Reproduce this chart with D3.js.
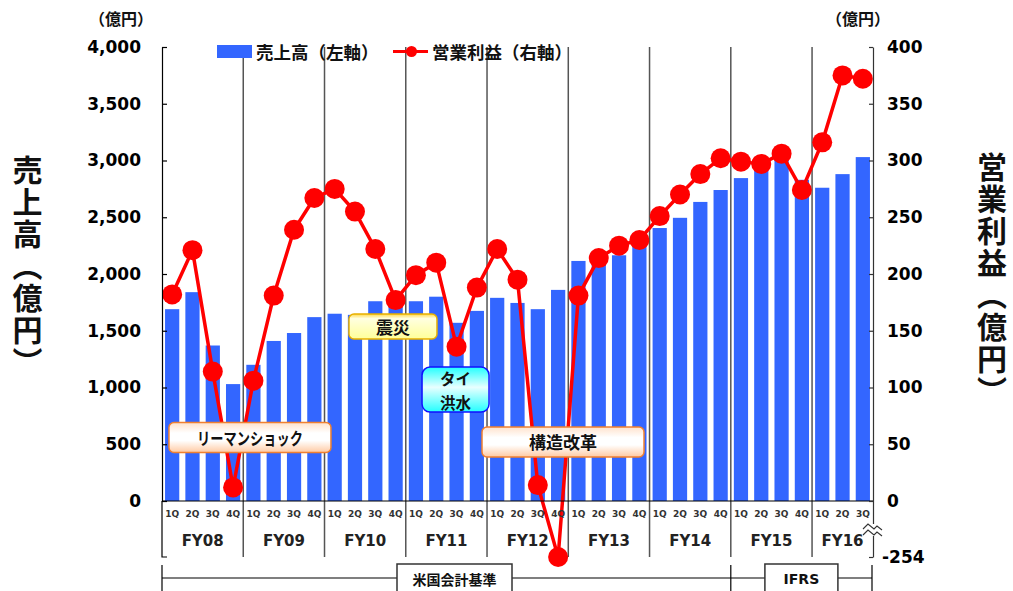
<!DOCTYPE html>
<html><head><meta charset="utf-8">
<script src="https://cdn.jsdelivr.net/npm/d3@7"></script>
<style>
html,body{margin:0;padding:0;background:#fff;}
svg{display:block;}
</style></head>
<body>
<svg id="chart" width="1013" height="591"></svg>
<script>
// ---- data ----
const fyLabels = ["FY08","FY09","FY10","FY11","FY12","FY13","FY14","FY15","FY16"];
const quarterLabels = ["1Q","2Q","3Q","4Q"];
const quartersPerYear = [4,4,4,4,4,4,4,4,3];
const sales = [
  1690,1840,1370,1030,
  1200,1410,1480,1620,
  1650,1640,1760,1770,
  1760,1800,1570,1675,
  1790,1745,1690,1860,
  2115,2140,2165,2260,
  2405,2495,2635,2740,
  2845,2935,3010,2830,
  2760,2880,3030
];
const operatingProfit = [
  182,221,114,12,
  106,181,239,267,
  275,255,222,177,
  199,210,136,188,
  222,195,14,-254,
  181,214,225,230,
  251,270,288,302,
  299,297,306,274,
  316,375,372
];
const salesTicks = [0,500,1000,1500,2000,2500,3000,3500,4000];
const profitTicks = [-254,0,50,100,150,200,250,300,350,400];
const legendLabels = ["売上高（左軸）","営業利益（右軸）"];
const unitLabel = "（億円）";
const leftTitle = "売上高（億円）";
const rightTitle = "営業利益（億円）";
const accountingBands = ["米国会計基準","IFRS"];
const annotationTexts = [["リーマンショック"],["震災"],["タイ","洪水"],["構造改革"]];
const annotationCat = [4.33, 11.37, 14.45, 19.74];   // position along category axis
const annotationVal = [559, 1537, 982, 520];          // position on sales axis
const annotationStyle = ["orange","yellow","cyan","orange"];

// ---- build categories ----
const categories = [];
const yearStart = [];
fyLabels.forEach((fy,i)=>{
  yearStart.push(categories.length);
  for(let q=0;q<quartersPerYear[i];q++) categories.push({fy, q:quarterLabels[q], idx:categories.length});
});
yearStart.push(categories.length);

const svg = d3.select("#chart");
const L = 162, R = 873, T = 47, Z = 501, B = 557;
const CJK = "'Noto Sans CJK JP','Noto Sans CJK SC',sans-serif";
const LAT = "'DejaVu Sans',Verdana,sans-serif";

const x = d3.scaleBand().domain(categories.map(d=>d.idx)).range([L,R]).paddingInner(0.3).paddingOuter(0.15);
const step = x.step();
const yL = d3.scaleLinear().domain([0,4000]).range([Z,T]);
const yR = d3.scaleLinear().domain([-254,0,400]).range([B,Z,T]);

// gradients
const defs = svg.append("defs");
function grad(id, stops){
  const g = defs.append("linearGradient").attr("id",id).attr("x1",0).attr("y1",0).attr("x2",0).attr("y2",1);
  stops.forEach(s=>g.append("stop").attr("offset",s[0]).attr("stop-color",s[1]));
}
grad("gOrange",[[0,"#ffe2cc"],[0.35,"#ffffff"],[0.6,"#ffffff"],[1,"#ffc9a2"]]);
grad("gYellow",[[0,"#ffd84a"],[0.18,"#ffffe0"],[1,"#ffff99"]]);
grad("gCyan",[[0,"#22ffff"],[0.45,"#e8ffff"],[1,"#22ffff"]]);
const styles = {
  orange:{fill:"url(#gOrange)",stroke:"#f08030",w:162,h:30,rx:5},
  yellow:{fill:"url(#gYellow)",stroke:"#e8b000",w:88,h:25,rx:5},
  cyan:{fill:"url(#gCyan)",stroke:"#1010ff",w:67,h:45,rx:8}
};

// separators between fiscal years
const sepXs = yearStart.slice(1,-1).map(i=>x(i) - step*0.15);
svg.append("g").selectAll("line").data(sepXs).join("line")
  .attr("x1",d=>d).attr("x2",d=>d).attr("y1",T).attr("y2",B)
  .attr("stroke","#555").attr("stroke-width",1.5);

// bars
svg.append("g").selectAll("rect").data(categories).join("rect")
  .attr("x",d=>x(d.idx)).attr("width",x.bandwidth())
  .attr("y",d=>yL(sales[d.idx])).attr("height",d=>Z-yL(sales[d.idx]))
  .attr("fill","#3366ff");

// line
const line = d3.line().x(d=>x(d.idx)+x.bandwidth()/2).y(d=>yR(operatingProfit[d.idx]));
svg.append("path").datum(categories).attr("d",line)
  .attr("fill","none").attr("stroke","#ff0000").attr("stroke-width",3.5);
svg.append("g").selectAll("circle").data(categories).join("circle")
  .attr("cx",d=>x(d.idx)+x.bandwidth()/2).attr("cy",d=>yR(operatingProfit[d.idx]))
  .attr("r",10).attr("fill","#ff0000");

// annotations
annotationTexts.forEach((lines,k)=>{
  const cx = L + step*annotationCat[k], cy = yL(annotationVal[k]);
  const st = styles[annotationStyle[k]];
  const g = svg.append("g");
  g.append("rect").attr("x",cx-st.w/2).attr("y",cy-st.h/2).attr("width",st.w).attr("height",st.h)
    .attr("rx",st.rx).attr("fill",st.fill).attr("stroke",st.stroke).attr("stroke-width",1.5);
  const n = lines.length;
  const fs = n>1 ? 15.5 : 17;
  lines.forEach((t,i)=>{
    const tx = g.append("text").attr("x",cx).attr("y",cy + (i-(n-1)/2)*24)
      .attr("text-anchor","middle").attr("dominant-baseline","central")
      .attr("font-family",CJK).attr("font-weight","bold").attr("font-size",fs).attr("fill","#111").text(t);
    if(t.length>=8) tx.attr("textLength",106).attr("lengthAdjust","spacingAndGlyphs");
  });
});

// baseline
svg.append("line").attr("x1",L).attr("x2",R).attr("y1",Z).attr("y2",Z).attr("stroke","#000").attr("stroke-width",1.2);

// left axis
const axL = svg.append("g").attr("transform",`translate(${L},0)`)
  .call(d3.axisLeft(yL).tickValues(salesTicks).tickSizeInner(-5).tickSizeOuter(0).tickPadding(21).tickFormat(d3.format(",")));
axL.attr("font-family",LAT).attr("font-size",17).attr("font-weight","bold");
axL.selectAll("text").attr("fill","#000");
axL.selectAll("path,line").attr("stroke","#000").attr("stroke-width",1.2);
svg.append("path").attr("d",`M${L},${Z}V${B}h5`).attr("fill","none").attr("stroke","#000").attr("stroke-width",1.2);

// right axis
const axR = svg.append("g").attr("transform",`translate(${R},0)`)
  .call(d3.axisRight(yR).tickValues(profitTicks).tickSizeInner(-4).tickSizeOuter(0).tickPadding(14)
    .tickFormat(d=>d<0?"-"+Math.abs(d):String(d)));
axR.attr("font-family",LAT).attr("font-size",17).attr("font-weight","bold");
axR.selectAll("text").attr("fill","#000");
axR.selectAll("path,line").attr("stroke","#333").attr("stroke-width",1.2);
axR.selectAll(".tick").filter(d=>d<0).select("text").attr("x",9);
// break mark
const bm = svg.append("g");
bm.append("rect").attr("x",R-6).attr("y",524).attr("width",14).attr("height",12).attr("fill","#fff");
[527,533].forEach(yy=>{
  bm.append("path").attr("d",`M${R-10},${yy+2} L${R-5},${yy-3} L${R+1},${yy+2} L${R+4},${yy-1} L${R+9},${yy+3}`)
    .attr("fill","none").attr("stroke","#333").attr("stroke-width",1.1);
});

// category labels
svg.append("g").selectAll("text").data(categories).join("text")
  .attr("x",d=>x(d.idx)+x.bandwidth()/2).attr("y",517)
  .attr("text-anchor","middle").attr("font-family",LAT).attr("font-weight","bold")
  .attr("font-size",9).attr("fill","#333").text(d=>d.q);
svg.append("g").selectAll("text").data(fyLabels).join("text")
  .attr("x",(d,i)=>{const a=yearStart[i], b=yearStart[i+1]; return (x(a)+x(b-1)+x.bandwidth())/2;})
  .attr("y",545.5).attr("text-anchor","middle").attr("font-family",LAT).attr("font-weight","bold")
  .attr("font-size",15).attr("fill","#222").text(d=>d);

// accounting standard band
const bandY = 578;
const bandXs = [L, sepXs[6], R-1];
svg.append("line").attr("x1",L).attr("x2",R-1).attr("y1",bandY).attr("y2",bandY).attr("stroke","#000").attr("stroke-width",1.2);
svg.append("g").selectAll("line").data(bandXs).join("line")
  .attr("x1",d=>d).attr("x2",d=>d).attr("y1",565).attr("y2",591).attr("stroke","#000").attr("stroke-width",1.2);
const bandBoxW = [115, 73];
const bandCx = [454.5, (sepXs[6]+R-1)/2];
accountingBands.forEach((lab,i)=>{
  const cx = bandCx[i];
  svg.append("rect").attr("x",cx-bandBoxW[i]/2).attr("y",564).attr("width",bandBoxW[i]).attr("height",32)
    .attr("fill","#fff").attr("stroke","#333").attr("stroke-width",1.5);
  svg.append("text").attr("x",cx).attr("y",578.5).attr("text-anchor","middle").attr("dominant-baseline","central")
    .attr("font-family",i===0?CJK:LAT).attr("font-weight","bold").attr("font-size",14).attr("fill","#111").text(lab);
});

// legend
const lg = svg.append("g");
lg.append("rect").attr("x",217).attr("y",45).attr("width",35).attr("height",13).attr("fill","#3366ff");
lg.append("text").attr("x",256).attr("y",51.5).attr("dominant-baseline","central")
  .attr("font-family",CJK).attr("font-weight","bold").attr("font-size",17.5).attr("fill","#111").text(legendLabels[0]);
lg.append("line").attr("x1",393).attr("x2",428).attr("y1",51.5).attr("y2",51.5).attr("stroke","#ff0000").attr("stroke-width",3);
lg.append("circle").attr("cx",411.5).attr("cy",51.5).attr("r",5.5).attr("fill","#ff0000");
lg.append("text").attr("x",432).attr("y",51.5).attr("dominant-baseline","central")
  .attr("font-family",CJK).attr("font-weight","bold").attr("font-size",17.5).attr("fill","#111").text(legendLabels[1]);

// unit labels
[121, 858].forEach(cx=>{
  svg.append("text").attr("x",cx).attr("y",18).attr("text-anchor","middle").attr("dominant-baseline","central")
    .attr("font-family",CJK).attr("font-weight","bold").attr("font-size",16).attr("fill","#111").text(unitLabel);
});

// vertical titles (vertical writing mode)
function vtitle(str, cx, y0){
  svg.append("text").attr("x",cx).attr("y",y0)
    .style("writing-mode","vertical-rl").style("text-orientation","upright")
    .attr("letter-spacing",2)
    .attr("font-family",CJK).attr("font-weight","bold").attr("font-size",30).attr("fill","#111").text(str);
}
vtitle(leftTitle, 27.5, 155);
vtitle(rightTitle, 992, 152);
</script>
</body></html>
